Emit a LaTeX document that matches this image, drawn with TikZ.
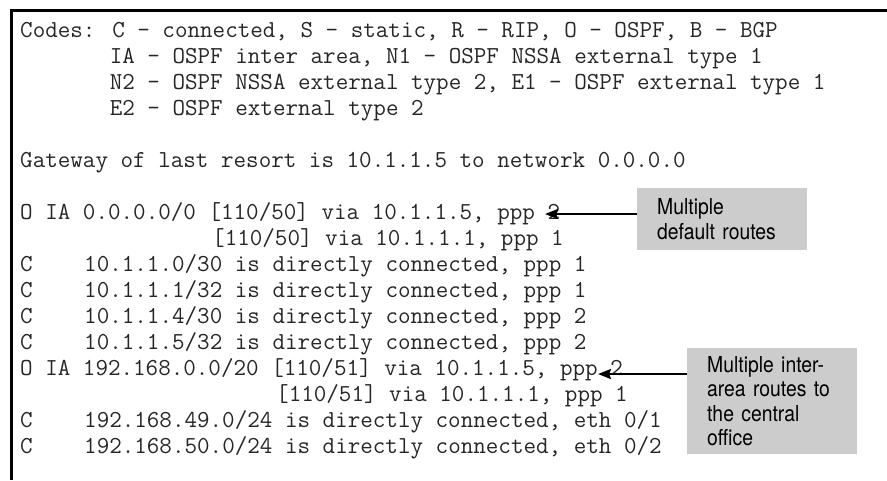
\documentclass[tikz,border=0pt]{standalone}
\usepackage{fontspec}
\newfontfamily\calloutfont[FakeStretch=0.88]{TeX Gyre Heros}
\usetikzlibrary{arrows.meta}

% column width of the console font (24.38pt Latin Modern Mono, 0.525em per glyph)
\newcommand{\colw}{12.8}
\newcommand{\rowy}[1]{\fpeval{30+26*(#1-1)+7}}

\tikzset{
  console/.style={font=\ttfamily\fontsize{24.38}{26}\selectfont, text=black!85,
                  anchor=base west, inner sep=0pt},
  callout/.style={fill=black!20, anchor=north west, inner xsep=20pt, inner ysep=0pt,
                  align=left, font=\calloutfont\fontsize{22}{24.5}\selectfont,
                  text=black},
  pointer/.style={line width=2.6pt, -{Stealth[length=13pt,width=10pt,inset=2pt]}},
  frame/.style={line width=3pt}
}

\begin{document}
\begin{tikzpicture}[x=1pt,y=-1pt]
\useasboundingbox (0,0) rectangle (887,480);

% console frame: top and left edges only
\draw[frame] (887,10.5) -- (11.5,10.5) -- (11.5,480);

% routing table listing, one node per printed row
\node[console] (l1)  at ({20+0*\colw},\rowy{1})  {Codes: C - connected, S - static, R - RIP, O - OSPF, B - BGP};
\node[console] (l2)  at ({20+7*\colw},\rowy{2})  {IA - OSPF inter area, N1 - OSPF NSSA external type 1};
\node[console] (l3)  at ({20+7*\colw},\rowy{3})  {N2 - OSPF NSSA external type 2, E1 - OSPF external type 1};
\node[console] (l4)  at ({20+7*\colw},\rowy{4})  {E2 - OSPF external type 2};
\node[console] (l6)  at ({20+0*\colw},\rowy{6})  {Gateway of last resort is 10.1.1.5 to network 0.0.0.0};
\node[console] (l8)  at ({20+0*\colw},\rowy{8})  {O IA 0.0.0.0/0 [110/50] via 10.1.1.5, ppp 2};
\node[console] (l9)  at ({20+15*\colw},\rowy{9}) {[110/50] via 10.1.1.1, ppp 1};
\node[console] (l10a) at ({20+0*\colw},\rowy{10}) {C};
\node[console] (l10b) at ({20+5*\colw},\rowy{10}) {10.1.1.0/30 is directly connected, ppp 1};
\node[console] (l11a) at ({20+0*\colw},\rowy{11}) {C};
\node[console] (l11b) at ({20+5*\colw},\rowy{11}) {10.1.1.1/32 is directly connected, ppp 1};
\node[console] (l12a) at ({20+0*\colw},\rowy{12}) {C};
\node[console] (l12b) at ({20+5*\colw},\rowy{12}) {10.1.1.4/30 is directly connected, ppp 2};
\node[console] (l13a) at ({20+0*\colw},\rowy{13}) {C};
\node[console] (l13b) at ({20+5*\colw},\rowy{13}) {10.1.1.5/32 is directly connected, ppp 2};
\node[console] (l14) at ({20+0*\colw},\rowy{14}) {O IA 192.168.0.0/20 [110/51] via 10.1.1.5, ppp 2};
\node[console] (l15) at ({20+20*\colw},\rowy{15}) {[110/51] via 10.1.1.1, ppp 1};
\node[console] (l16a) at ({20+0*\colw},\rowy{16}) {C};
\node[console] (l16b) at ({20+5*\colw},\rowy{16}) {192.168.49.0/24 is directly connected, eth 0/1};
\node[console] (l17a) at ({20+0*\colw},\rowy{17}) {C};
\node[console] (l17b) at ({20+5*\colw},\rowy{17}) {192.168.50.0/24 is directly connected, eth 0/2};

% callouts
\node[callout, text width=130pt, minimum width=170pt, minimum height=62pt] (c1) at (637,188)
  {Multiple\\default routes};
\node[callout, text width=130pt, minimum width=170pt, minimum height=106pt] (c2) at (687,348)
  {Multiple inter-\\area routes to\\the central\\office};

\coordinate (tip1) at (545,214);
\coordinate (tip2) at (598,374);
\draw[pointer] (c1.west |- tip1) -- (tip1);
\draw[pointer] (c2.west |- tip2) -- (tip2);
\end{tikzpicture}
\end{document}
